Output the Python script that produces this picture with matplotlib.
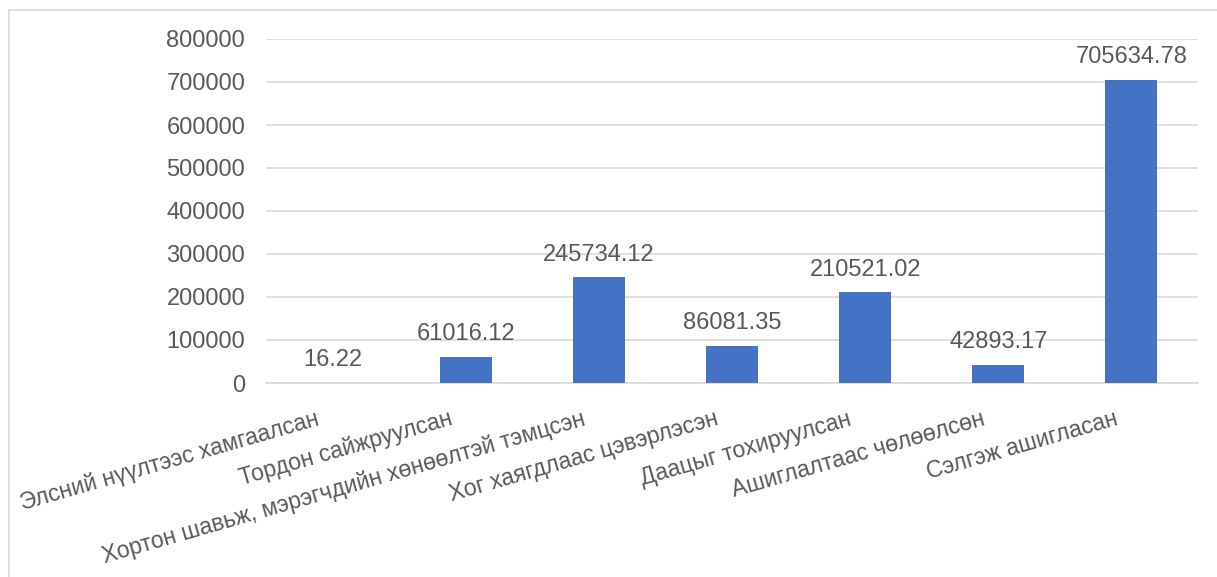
import matplotlib
matplotlib.use("Agg")
import matplotlib.pyplot as plt
from matplotlib.patches import Rectangle

plt.rcParams['font.family'] = ['Liberation Sans', 'DejaVu Sans']

categories = [
    "Элсний нүүлтээс хамгаалсан",
    "Тордон сайжруулсан",
    "Хортон шавьж, мэрэгчдийн хөнөөлтэй тэмцсэн",
    "Хог хаягдлаас цэвэрлэсэн",
    "Даацыг тохируулсан",
    "Ашиглалтаас чөлөөлсөн",
    "Сэлгэж ашигласан",
]
values = [16.22, 61016.12, 245734.12, 86081.35, 210521.02, 42893.17, 705634.78]
value_labels = ["16.22", "61016.12", "245734.12", "86081.35", "210521.02", "42893.17", "705634.78"]
yticks = [0, 100000, 200000, 300000, 400000, 500000, 600000, 700000, 800000]

W, H = 1217, 577
fig = plt.figure(figsize=(W / 100, H / 100), dpi=100)
ax = fig.add_axes([266 / W, 1 - 383 / H, (1198 - 266) / W, (383 - 39) / H])

text_color = "#595959"
grid_color = "#D9D9D9"
fs = 17

x = list(range(len(categories)))
ax.bar(x, values, width=0.39, color="#4472C4", zorder=3)
ax.set_xlim(-0.5, len(categories) - 0.5)
ax.set_ylim(0, 800000)
ax.set_yticks(yticks)
ax.set_yticklabels([str(t) for t in yticks], fontsize=fs, color=text_color)
ax.yaxis.grid(True, color=grid_color, linewidth=1.2, zorder=0)
ax.tick_params(axis='y', length=0, pad=15)
ax.tick_params(axis='x', length=0)
for s in ["top", "right", "left"]:
    ax.spines[s].set_visible(False)
ax.spines["bottom"].set_color(grid_color)
ax.spines["bottom"].set_linewidth(1.2)

ax.set_xticks(x)
ax.set_xticklabels([])
for xi, cat in zip(x, categories):
    ax.annotate(cat, xy=(xi, 0), xycoords=('data', 'axes fraction'),
                xytext=(-12.5, -17.5), textcoords='offset points',
                ha='right', va='top', rotation=16, rotation_mode='anchor',
                fontsize=16.6, color=text_color)

for xi, v, lab in zip(x, values, value_labels):
    ax.annotate(lab, xy=(xi, v), xytext=(0, 12), textcoords='offset points',
                ha='center', va='baseline', fontsize=fs, color=text_color)

fig.patches.append(Rectangle((9 / W, -0.05), 1.1, 1 - 10 / H + 0.05,
                             transform=fig.transFigure, fill=False,
                             edgecolor=grid_color, linewidth=1.2))

fig.savefig("out.png", dpi=100)
